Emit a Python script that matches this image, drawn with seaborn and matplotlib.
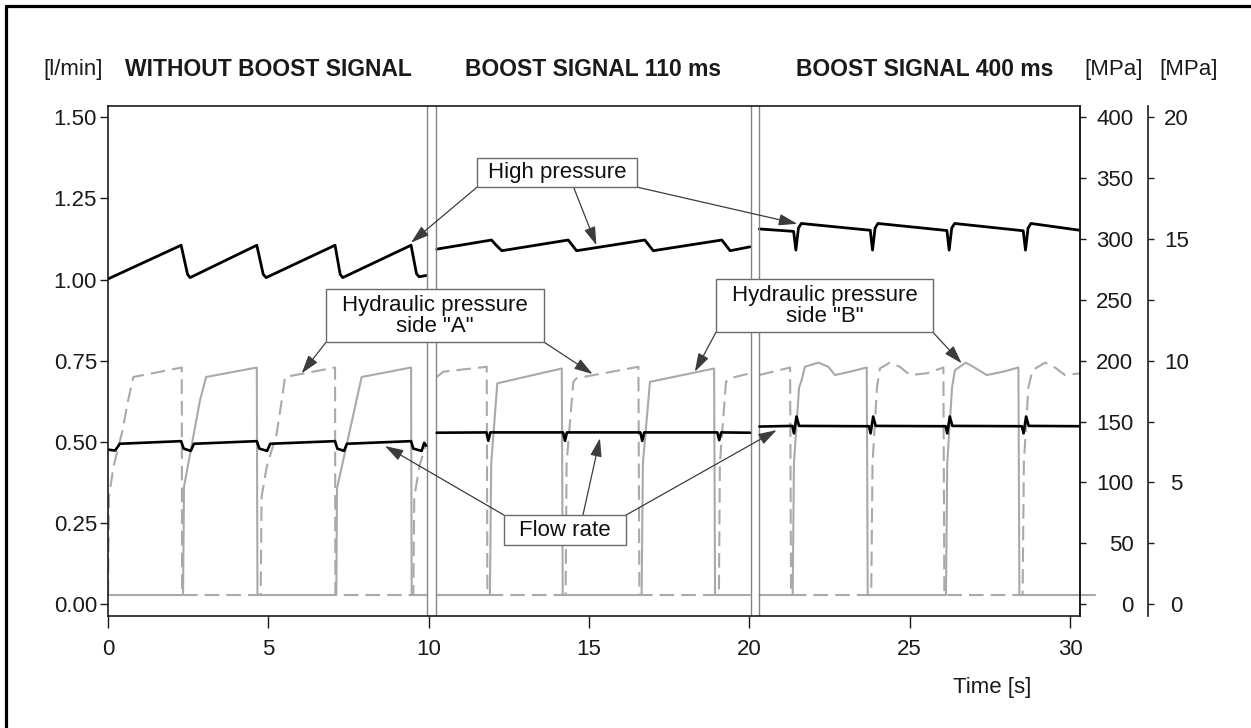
import numpy as np
import pandas as pd
import matplotlib
matplotlib.use("Agg")
import matplotlib.pyplot as plt
import seaborn as sns
from matplotlib.patches import Rectangle
from matplotlib.lines import Line2D

# ------------------------------------------------------------------ data
HEADERS = ["WITHOUT BOOST SIGNAL", "BOOST SIGNAL 110 ms", "BOOST SIGNAL 400 ms"]
FLOW_UNIT = "[l/min]"
MPA_UNIT = "[MPa]"
X_LABEL = "Time [s]"

X_TICKS = [0, 5, 10, 15, 20, 25, 30]
LEFT_TICKS = [0.0, 0.25, 0.5, 0.75, 1.0, 1.25, 1.5]
LEFT_LABELS = ["0.00", "0.25", "0.50", "0.75", "1.00", "1.25", "1.50"]
RIGHT1_TICKS = [0, 50, 100, 150, 200, 250, 300, 350, 400]
RIGHT2_TICKS = [0, 2.5, 5, 7.5, 10, 12.5, 15, 17.5, 20]
RIGHT2_LABELS = ["0", "", "5", "", "10", "", "15", "", "20"]

SEGMENT_BREAKS = [9.94, 10.23, 20.04, 20.30]

# High pressure [MPa] (right axis 0-400)
HP_T1 = [0.00, 2.28, 2.48, 2.56, 4.64, 4.84, 4.93, 7.08, 7.24, 7.32, 9.45, 9.62, 9.70, 9.92]
HP_V1 = [267.2, 294.9, 271.0, 268.3, 294.9, 271.0, 268.3, 294.9, 271.0, 268.3, 294.9, 271.5, 269.0, 270.0]
HP_T2 = [10.25, 11.96, 12.12, 12.28, 14.35, 14.49, 14.61, 16.74, 16.88, 17.00, 19.14, 19.28, 19.40, 20.02]
HP_V2 = [291.7, 299.2, 294.5, 290.4, 299.2, 294.5, 290.4, 299.2, 294.5, 290.4, 299.2, 294.5, 290.4, 293.6]
HP_T3 = [20.31, 21.38, 21.45, 21.53, 21.62, 23.77, 23.84, 23.92, 24.01, 26.16, 26.23, 26.31, 26.40,
         28.54, 28.61, 28.69, 28.78, 30.31]
HP_V3 = [308.3, 306.3, 290.9, 309.0, 312.8, 307.2, 290.9, 309.0, 312.8, 307.0, 290.9, 309.0, 312.8,
         306.8, 290.9, 309.0, 312.8, 307.2]

# Flow rate [l/min] (left axis)
FLOW_T1 = [0.00, 0.22, 0.37, 2.28, 2.36, 2.58, 2.68, 4.64, 4.72, 4.96, 5.06, 7.08, 7.15, 7.36, 7.45,
           9.45, 9.52, 9.78, 9.86, 9.92]
FLOW_V1 = [0.476, 0.473, 0.494, 0.502, 0.479, 0.472, 0.494, 0.502, 0.479, 0.472, 0.494, 0.502, 0.479,
           0.472, 0.494, 0.502, 0.479, 0.472, 0.497, 0.488]
FLOW_T2 = [10.25, 11.80, 11.86, 11.92, 14.19, 14.25, 14.31, 16.60, 16.66, 16.72, 19.00, 19.06, 19.12, 20.02]
FLOW_V2 = [0.528, 0.529, 0.503, 0.529, 0.529, 0.503, 0.529, 0.529, 0.503, 0.529, 0.529, 0.505, 0.529, 0.528]
FLOW_T3 = [20.31, 21.34, 21.39, 21.47, 21.55, 23.73, 23.78, 23.86, 23.94, 26.12, 26.17, 26.25, 26.33,
           28.50, 28.55, 28.63, 28.71, 30.31]
FLOW_V3 = [0.547, 0.549, 0.526, 0.578, 0.549, 0.548, 0.526, 0.578, 0.549, 0.548, 0.526, 0.578, 0.549,
           0.548, 0.526, 0.578, 0.549, 0.548]

# Hydraulic pressure side "A" [MPa] (right axis 0-20), dashed
A_T1 = [0.00, 0.03, 0.17, 0.43, 0.63, 0.79, 2.30, 2.31, 4.76, 4.79, 4.95, 5.26, 5.42, 5.52, 7.08, 7.09,
        9.52, 9.55, 9.72, 9.92]
A_V1 = [0.37, 4.41, 5.64, 7.01, 8.38, 9.33, 9.72, 0.37, 0.37, 4.41, 5.64, 7.01, 8.38, 9.33, 9.72, 0.37,
        0.37, 4.41, 5.70, 6.60]
A_T2 = [10.25, 10.46, 11.81, 11.83, 14.27, 14.30, 14.51, 14.61, 16.54, 16.57, 19.05, 19.08, 19.27, 19.40, 20.02]
A_V2 = [9.33, 9.55, 9.75, 0.37, 0.37, 5.78, 9.13, 9.28, 9.75, 0.37, 0.37, 5.78, 9.13, 9.28, 9.48]
A_T3 = [20.31, 21.27, 21.30, 23.80, 23.84, 23.98, 24.07, 24.38, 24.69, 25.01, 25.53, 26.05, 26.08,
        28.52, 28.56, 28.70, 28.83, 29.22, 29.50, 29.84, 30.31]
A_V3 = [9.41, 9.72, 0.37, 0.37, 5.80, 8.90, 9.68, 9.92, 9.75, 9.41, 9.48, 9.72, 0.37,
        0.37, 5.80, 8.90, 9.61, 9.92, 9.75, 9.41, 9.48]

# Hydraulic pressure side "B" [MPa] (right axis 0-20), solid
B_T1 = [0.00, 2.34, 2.37, 2.87, 3.06, 4.64, 4.66, 7.12, 7.14, 7.75, 7.91, 9.45, 9.47, 9.92]
B_V1 = [0.37, 0.37, 4.82, 8.38, 9.33, 9.72, 0.37, 0.37, 4.75, 8.38, 9.33, 9.72, 0.37, 0.37]
B_T2 = [10.25, 11.91, 11.95, 12.14, 14.15, 14.18, 16.64, 16.68, 16.90, 18.90, 18.93, 20.02]
B_V2 = [0.37, 0.37, 5.78, 9.07, 9.68, 0.37, 0.37, 5.78, 9.13, 9.68, 0.37, 0.37]
B_T3 = [20.31, 21.35, 21.39, 21.55, 21.63, 21.73, 22.15, 22.46, 22.67, 23.14, 23.66, 23.69,
        26.13, 26.17, 26.32, 26.41, 26.75, 26.98, 27.40, 27.92, 28.39, 28.42, 30.78]
B_V3 = [0.37, 0.37, 5.80, 8.90, 9.20, 9.75, 9.92, 9.75, 9.41, 9.55, 9.72, 0.37,
        0.37, 5.80, 8.90, 9.61, 9.92, 9.75, 9.41, 9.55, 9.72, 0.37, 0.37]

# Annotation boxes (time, l/min) and arrows (start -> tip)
ANNOT_BOXES = [
    ("High pressure", (11.51, 1.285, 16.50, 1.374)),
    ('Hydraulic pressure\nside "A"', (6.80, 0.807, 13.60, 0.971)),
    ('Hydraulic pressure\nside "B"', (18.96, 0.838, 25.72, 1.002)),
    ("Flow rate", (12.35, 0.182, 16.15, 0.274)),
]
ANNOT_ARROWS = [
    ((11.51, 1.285), (9.45, 1.114)),
    ((14.53, 1.282), (15.23, 1.106)),
    ((16.50, 1.285), (21.49, 1.172)),
    ((6.80, 0.807), (6.04, 0.711)),
    ((13.60, 0.807), (15.11, 0.709)),
    ((18.96, 0.838), (18.30, 0.716)),
    ((25.72, 0.838), (26.62, 0.742)),
    ((12.35, 0.274), (8.64, 0.487)),
    ((14.81, 0.274), (15.34, 0.511)),
    ((16.15, 0.274), (20.85, 0.536)),
]


def frame(segments):
    return pd.concat([pd.DataFrame({"t": t, "v": v, "seg": i})
                      for i, (t, v) in enumerate(segments)], ignore_index=True)


# ------------------------------------------------------------------ style
sns.set_theme(style="ticks")
plt.rcParams["font.family"] = ["Liberation Sans", "DejaVu Sans"]
plt.rcParams["axes.linewidth"] = 1.2
plt.rcParams["xtick.major.width"] = 1.0
plt.rcParams["ytick.major.width"] = 1.0
plt.rcParams["xtick.color"] = "#1a1a1a"
plt.rcParams["ytick.color"] = "#1a1a1a"

W, H = 1251, 728
fig = plt.figure(figsize=(W / 100, H / 100), dpi=100)
fig.patch.set_facecolor("white")

ax = fig.add_axes([108 / W, 1 - 615.7 / H, (1080 - 108) / W, (615.7 - 105.7) / H])
ax2 = ax.twinx()
ax3 = ax.twinx()

GRAY = "#a9a9a9"

# hydraulic pressures (bottom layer)
n0 = len(ax3.lines)
sns.lineplot(data=frame([(A_T1, A_V1), (A_T2, A_V2), (A_T3, A_V3)]), x="t", y="v", units="seg",
             estimator=None, sort=False, color=GRAY, lw=1.5, ax=ax3, legend=False)
for ln in ax3.lines[n0:]:
    ln.set_dashes((7.0, 3.4))
n1 = len(ax3.lines)
sns.lineplot(data=frame([(B_T1, B_V1), (B_T2, B_V2), (B_T3, B_V3)]), x="t", y="v", units="seg",
             estimator=None, sort=False, color=GRAY, lw=1.5, ax=ax3, legend=False)
for ln in ax3.lines[n1:]:
    ln.set_clip_on(False)

# high pressure
sns.lineplot(data=frame([(HP_T1, HP_V1), (HP_T2, HP_V2), (HP_T3, HP_V3)]), x="t", y="v", units="seg",
             estimator=None, sort=False, color="black", lw=2.0, ax=ax2, legend=False)

# flow rate
sns.lineplot(data=frame([(FLOW_T1, FLOW_V1), (FLOW_T2, FLOW_V2), (FLOW_T3, FLOW_V3)]), x="t", y="v",
             units="seg", estimator=None, sort=False, color="black", lw=1.9, ax=ax, legend=False)

# layering
ax3.set_zorder(1)
ax2.set_zorder(2)
ax.set_zorder(3)
for a in (ax, ax2, ax3):
    a.patch.set_visible(False)
    a.set_xlabel("")
    a.set_ylabel("")

# limits
YLO, YHI = -0.036, 1.536
ax.set_xlim(0, 30.31)
ax.set_ylim(YLO, YHI)
ax2.set_ylim(YLO * 400 / 1.5, YHI * 400 / 1.5)
ax3.set_ylim(YLO * 20 / 1.5, YHI * 20 / 1.5)

# main axis
ax.set_xticks(X_TICKS)
ax.set_xticklabels([str(v) for v in X_TICKS])
ax.set_yticks(LEFT_TICKS)
ax.set_yticklabels(LEFT_LABELS)
ax.tick_params(axis="x", bottom=True, top=False, length=8.5, pad=8, labelsize=16, direction="out")
ax.tick_params(axis="y", left=True, right=False, length=5.5, pad=2.5, labelsize=16, direction="out")
for s in ax.spines.values():
    s.set_visible(True)
    s.set_color("#1a1a1a")
    s.set_linewidth(1.2)

# right axis 1 (0-400 MPa)
ax2.set_yticks(RIGHT1_TICKS)
ax2.set_yticklabels([str(v) for v in RIGHT1_TICKS])
ax2.tick_params(axis="y", right=True, left=False, length=4.5, pad=34, labelsize=16, direction="out")
for k in ("top", "bottom", "left"):
    ax2.spines[k].set_visible(False)
ax2.spines["right"].set_color("#1a1a1a")
for lab in ax2.get_yticklabels():
    lab.set_horizontalalignment("right")

# right axis 2 (0-20 MPa)
ax3.spines["right"].set_position(("axes", 1.07))
for k in ("top", "bottom", "left"):
    ax3.spines[k].set_visible(False)
ax3.spines["right"].set_color("#1a1a1a")
ax3.spines["right"].set_linewidth(1.2)
ax3.set_yticks(RIGHT2_TICKS)
ax3.set_yticklabels(RIGHT2_LABELS)
ax3.tick_params(axis="y", right=True, left=False, length=4.5, pad=16, labelsize=16, direction="out")
for lab in ax3.get_yticklabels():
    lab.set_horizontalalignment("center")

# segment boundaries (double vertical lines)
for t in SEGMENT_BREAKS:
    ax.axvline(t, color="#858585", lw=1.0, zorder=1)

# annotations
for text, (x0, y0, x1, y1) in ANNOT_BOXES:
    ax.add_patch(Rectangle((x0, y0), x1 - x0, y1 - y0, facecolor="white", edgecolor="#6a6a6a",
                           lw=1.0, zorder=6))
    ax.text((x0 + x1) / 2, (y0 + y1) / 2, text, ha="center", va="center", fontsize=16,
            linespacing=1.0, color="#111111", zorder=7)
for start, tip in ANNOT_ARROWS:
    ax.annotate("", xy=tip, xytext=start,
                arrowprops=dict(arrowstyle="-|>,head_length=0.7,head_width=0.22", color="#3c3c3c",
                                lw=0.9, mutation_scale=16, shrinkA=0, shrinkB=0), zorder=5)

# header texts
yh = 1 - 70 / H
fig.text(73 / W, yh, FLOW_UNIT, ha="center", va="center", fontsize=16, color="#1a1a1a")
for xc, txt in zip([268, 593, 925], HEADERS):
    fig.text(xc / W, yh, txt, ha="center", va="center", fontsize=16.5, fontweight="bold", color="#1a1a1a")
fig.text(1114 / W, yh, MPA_UNIT, ha="center", va="center", fontsize=16, color="#1a1a1a")
fig.text(1189 / W, yh, MPA_UNIT, ha="center", va="center", fontsize=16, color="#1a1a1a")
fig.text(992.5 / W, 1 - 687 / H, X_LABEL, ha="center", va="center", fontsize=16, color="#1a1a1a")

# figure frame (left and top edges)
fig.add_artist(Line2D([6 / W, 6 / W], [0, 1 - 5.5 / H], transform=fig.transFigure, color="black", lw=2.3))
fig.add_artist(Line2D([6 / W, 1], [1 - 5.5 / H, 1 - 5.5 / H], transform=fig.transFigure, color="black", lw=2.3))

fig.savefig("out.png", dpi=100)
